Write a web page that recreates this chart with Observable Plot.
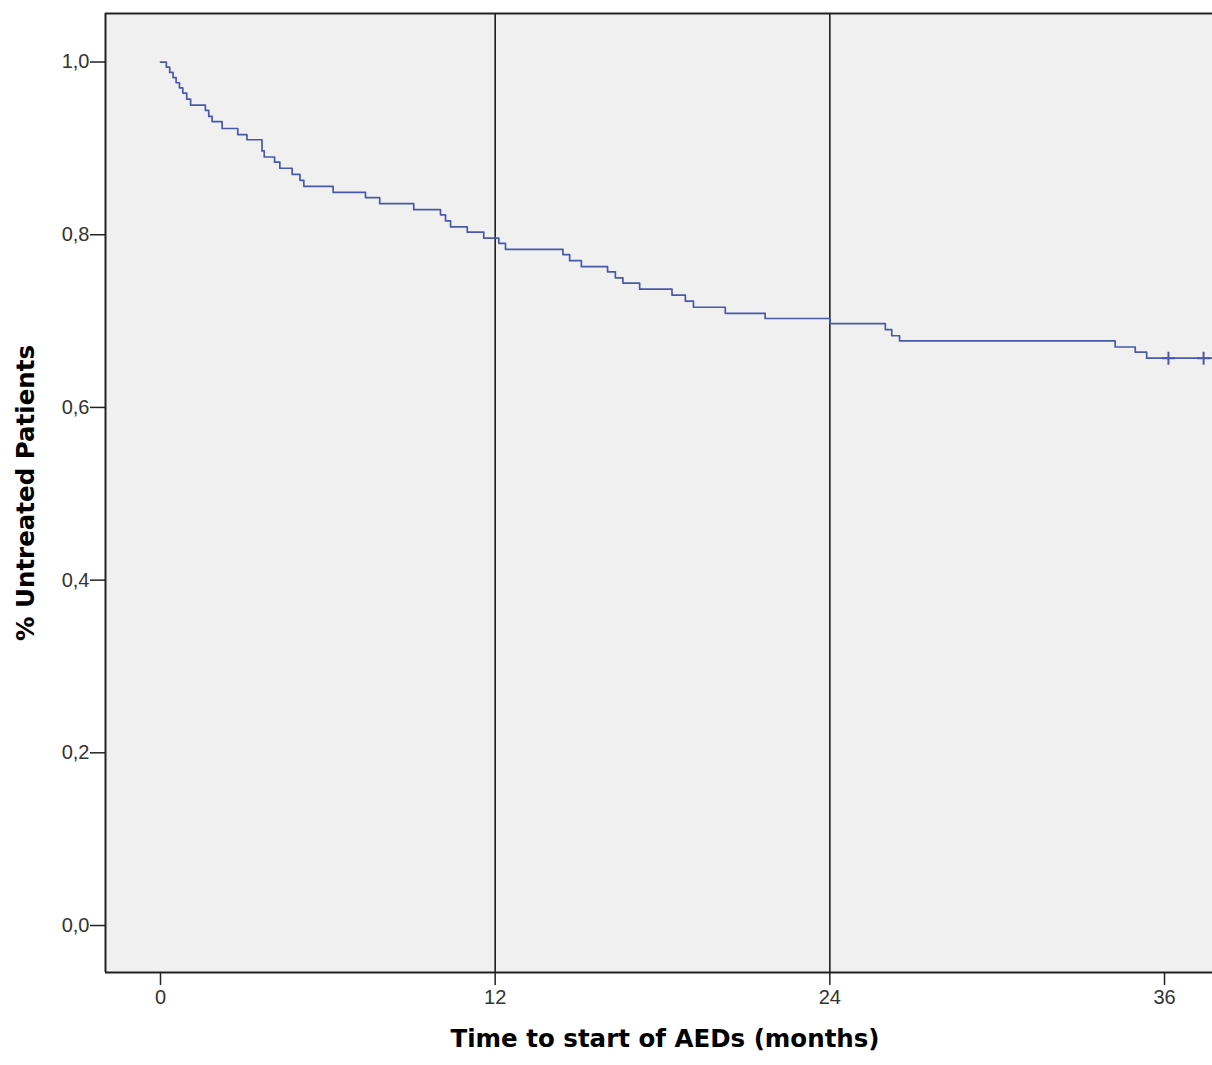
<!DOCTYPE html>
<html>
<head>
<meta charset="utf-8">
<script src="https://cdn.jsdelivr.net/npm/d3@7"></script>
<script src="https://cdn.jsdelivr.net/npm/@observablehq/plot@0.6"></script>
<style>
  html, body { margin: 0; padding: 0; background: #ffffff; }
  #chart { width: 1212px; height: 1065px; overflow: hidden; }
</style>
</head>
<body>
<div id="chart"></div>
<script>
// Kaplan–Meier step curve: event times (months) and survival after each event
const times = [0, 0.21, 0.33, 0.45, 0.56, 0.68, 0.80, 0.94, 1.08, 1.61, 1.73, 1.85, 2.21, 2.77, 3.10,
  3.64, 3.72, 4.09, 4.28, 4.72, 5.00, 5.14, 6.19, 7.35, 7.86, 9.08, 10.04, 10.22, 10.40, 11.00, 11.59,
  12.13, 12.37, 14.43, 14.67, 15.09, 16.03, 16.31, 16.58, 17.18, 18.34, 18.82, 19.11, 20.25, 21.68,
  24.01, 25.99, 26.22, 26.50, 34.23, 34.95, 35.36, 37.80];
const surv = [1.000, 0.994, 0.988, 0.982, 0.976, 0.970, 0.964, 0.957, 0.950, 0.944, 0.937, 0.931, 0.923, 0.916, 0.910,
  0.897, 0.890, 0.884, 0.877, 0.870, 0.863, 0.856, 0.849, 0.843, 0.836, 0.829, 0.823, 0.816, 0.809, 0.803, 0.796,
  0.790, 0.783, 0.777, 0.770, 0.763, 0.757, 0.750, 0.744, 0.737, 0.730, 0.723, 0.716, 0.709, 0.703,
  0.697, 0.690, 0.683, 0.677, 0.670, 0.664, 0.657, 0.657];
// censored observations
const censorTimes = [36.14, 37.40];
const censorSurv = [0.657, 0.657];
// axes
const xTicks = [0, 12, 24, 36];
const yTicks = [0, 0.2, 0.4, 0.6, 0.8, 1.0];
const refLines = [12, 24];
const xDomain = [-1.972, 37.72];
const yDomain = [-0.0544, 1.0562];
const xLabel = "Time to start of AEDs (months)";
const yLabel = "% Untreated Patients";

const curve = times.map((t, i) => ({t, s: surv[i]}));
const censored = censorTimes.map((t, i) => ({t, s: censorSurv[i]}));

const lineColor = "#4a58a8";
const plusSymbol = {
  draw(context, size) {
    const r = Math.sqrt(size / Math.PI);
    context.moveTo(0, -r); context.lineTo(0, r);
    context.moveTo(-r, 0); context.lineTo(r, 0);
  }
};

const chart = Plot.plot({
  width: 1212,
  height: 1065,
  marginTop: 13,
  marginBottom: 93,
  marginLeft: 105,
  marginRight: 0,
  style: {background: "#ffffff", color: "#333333", fontFamily: "'Liberation Sans', Arial, sans-serif"},
  x: {domain: xDomain, axis: null},
  y: {domain: yDomain, axis: null},
  marks: [
    Plot.frame({fill: "#f0f0f0", stroke: null}),
    Plot.ruleX(refLines, {stroke: "#111111", strokeWidth: 1.5}),
    Plot.line(curve, {x: "t", y: "s", curve: "step-after", stroke: lineColor, strokeWidth: 1.7, clip: true}),
    Plot.dot(censored, {x: "t", y: "s", symbol: plusSymbol, r: 6.5, stroke: lineColor, strokeWidth: 2, fill: "none", clip: true}),
    Plot.ruleX([xDomain[0]], {stroke: "#222222", strokeWidth: 2}),
    Plot.ruleY(yDomain, {stroke: "#222222", strokeWidth: 2}),
    Plot.axisX(xTicks, {tickSize: 13, tickPadding: 4, fontSize: 20, stroke: "#222222", strokeWidth: 1.5, fill: "#333333", label: null}),
    Plot.axisY(yTicks, {tickSize: 15, tickPadding: 1, fontSize: 20, stroke: "#222222", strokeWidth: 1.5, fill: "#333333", label: null,
      tickFormat: d => d.toFixed(1).replace(".", ",")}),
    Plot.text([xLabel], {frameAnchor: "bottom", dy: 74, dx: 6, fontSize: 24.5, fontWeight: "bold", fill: "#000000",
      fontFamily: "'DejaVu Sans', Verdana, sans-serif"}),
    Plot.text([yLabel], {frameAnchor: "left", textAnchor: "middle", rotate: -90, dx: -79, fontSize: 24.5, fontWeight: "bold", fill: "#000000",
      fontFamily: "'DejaVu Sans', Verdana, sans-serif"})
  ]
});
document.getElementById("chart").appendChild(chart);
</script>
</body>
</html>
